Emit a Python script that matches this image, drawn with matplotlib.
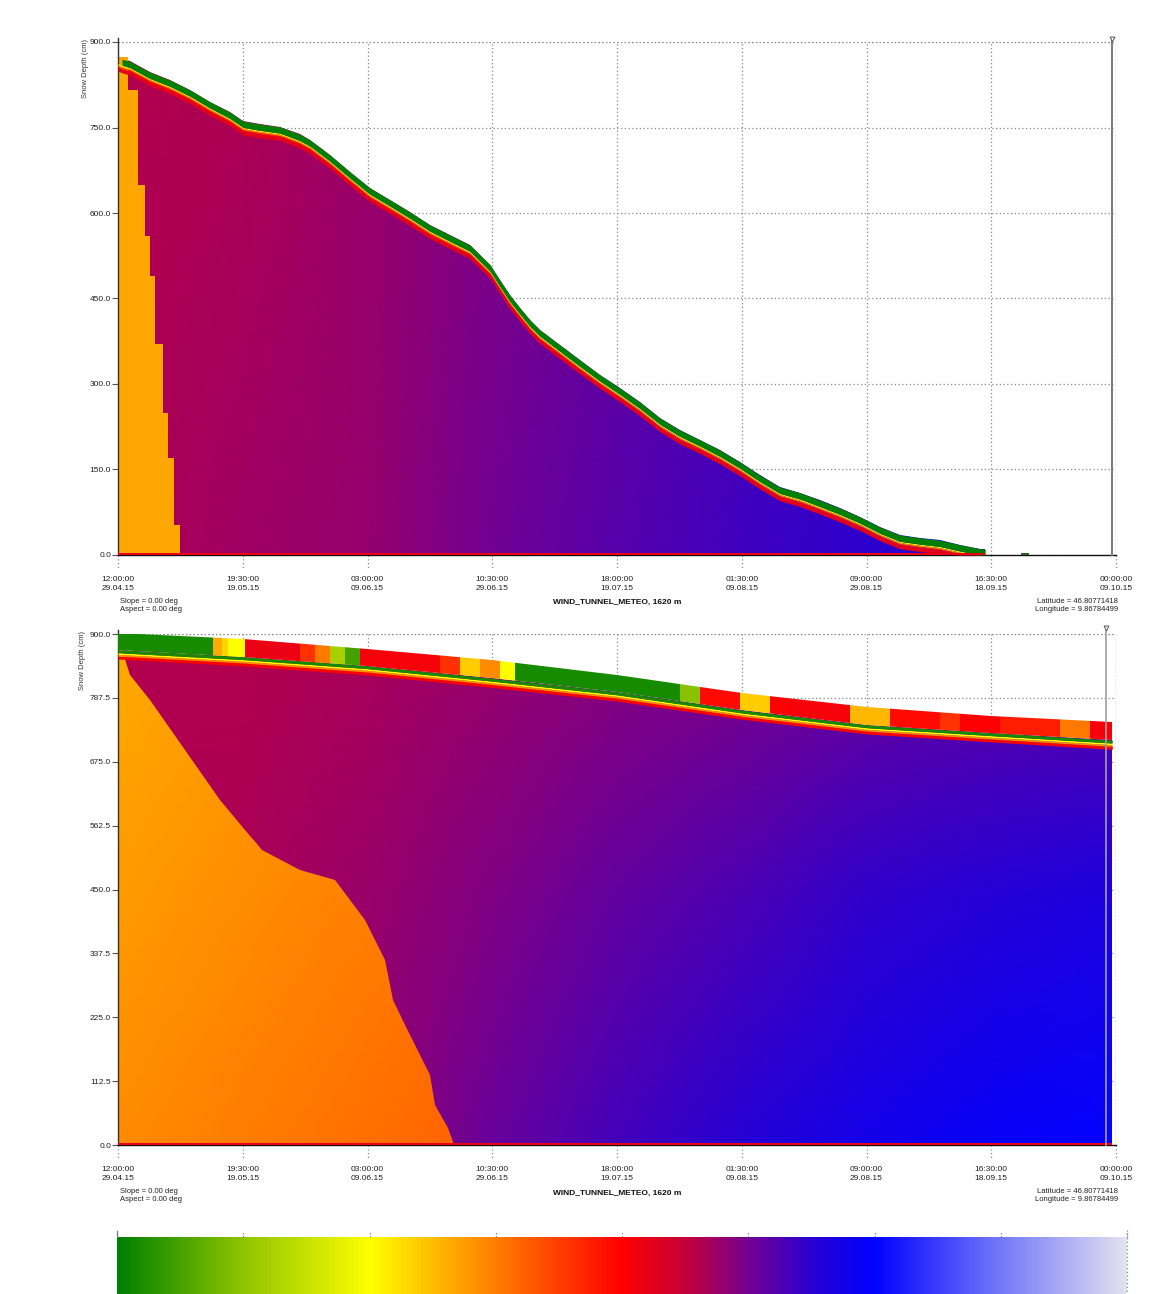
import numpy as np
import matplotlib
matplotlib.use('Agg')
import matplotlib.pyplot as plt
from matplotlib.colors import LinearSegmentedColormap
from matplotlib.patches import Polygon
from matplotlib import transforms

plt.rcParams['font.family'] = ['Liberation Sans', 'DejaVu Sans']

# ---------------- data ----------------
T_END = 162.5  # days from 29.04.15 12:00 to 09.10.15 00:00
tick_days = [0, 20.3125, 40.625, 60.9375, 81.25, 101.5625, 121.875, 142.1875, 162.5]
tick_labels = ["12:00:00\n29.04.15", "19:30:00\n19.05.15", "03:00:00\n09.06.15",
               "10:30:00\n29.06.15", "18:00:00\n19.07.15", "01:30:00\n09.08.15",
               "09:00:00\n29.08.15", "16:30:00\n18.09.15", "00:00:00\n09.10.15"]
top_yticks = [0, 150, 300, 450, 600, 750, 900]
bot_yticks = [0, 112.5, 225, 337.5, 450, 562.5, 675, 787.5, 900]

# colour scale (position, rgb)
cmap_pos = [0.0, 0.12, 0.25, 0.33, 0.5, 0.56, 0.63, 0.69, 0.75, 0.87, 1.0]
cmap_rgb = [(0, 128, 0), (140, 195, 0), (255, 255, 0), (255, 170, 0), (255, 0, 0),
            (200, 0, 55), (110, 0, 150), (40, 0, 210), (0, 0, 255), (110, 115, 250),
            (225, 225, 240)]

# top panel: snow height (cm) over time (days)
top_t = [0, 0.65, 1.95, 5.2, 8.5, 11.7, 15.0, 18.2, 20.4, 23.1, 26.4, 29.6, 31.3, 34.5,
         37.8, 41.0, 44.3, 47.5, 50.8, 54.1, 57.3, 59.0, 60.6, 62.2, 63.8, 65.5, 67.1,
         68.7, 72.0, 75.2, 78.5, 81.7, 85.0, 88.3, 91.5, 94.8, 98.0, 101.3, 104.5, 107.8,
         111.1, 114.3, 117.6, 120.8, 124.1, 127.3, 130.6, 133.8, 137.1, 140.4, 141.2]
top_h = [873, 870, 866, 847, 833, 816, 795, 777, 761, 756, 751, 738, 728, 702,
         672, 644, 623, 602, 579, 561, 544, 526, 509, 482, 456, 433, 412,
         395, 368, 342, 316, 293, 268, 240, 219, 202, 184, 163, 140, 119,
         109, 96, 82, 67, 49, 35, 30, 26, 18, 11, 10]
# top panel: orange (early) layer, depth bands (cm) and their time extent (days)
top_or_depth = [0, 53, 170, 249, 370, 490, 560, 650, 815, 873]
top_or_t = [10.1, 9.1, 8.2, 7.3, 6.0, 5.2, 4.4, 3.3, 1.6]
# interior colour values (grid of time x depth)
grid_t = [0, 20.3, 40.6, 60.9, 81.2, 101.6, 121.9, 142.2, 162.5]
top_grid_depth = [0, 900]
top_grid_vals = [[0.58, 0.59, 0.60, 0.625, 0.65, 0.67, 0.685, 0.69, 0.69],
                 [0.575, 0.58, 0.595, 0.615, 0.635, 0.655, 0.67, 0.68, 0.68]]
blip_t = [147.0, 148.3]
blip_h = 4

# bottom panel
bot_t = [0, 20.3, 40.6, 60.9, 81.2, 101.6, 121.9, 142.2, 161.9]
bot_strip_top = [901, 891, 874, 854, 828, 796, 771, 755, 745]
bot_strip_bot = [872, 860, 844, 822, 798, 766, 740, 726, 713]
strip_edges = [0, 15.5, 16.9, 17.9, 20.7, 29.6, 32.1, 34.5, 37.0, 39.4, 52.4, 55.7, 58.9,
               62.2, 64.6, 91.5, 94.8, 101.3, 106.2, 109.4, 119.2, 125.7, 133.8, 137.1,
               143.6, 153.4, 158.3, 162.5]
strip_vals = [0.02, 0.33, 0.29, 0.25, 0.52, 0.45, 0.38, 0.15, 0.06, 0.51, 0.45, 0.30, 0.36,
              0.25, 0.02, 0.12, 0.49, 0.30, 0.50, 0.51, 0.32, 0.49, 0.45, 0.50, 0.47, 0.38, 0.51]
bot_or_t = [0, 0.65, 1.95, 5.2, 10.9, 16.6, 20.7, 23.4, 29.6, 35.3, 40.2, 43.5, 44.8, 46.7,
            49.2, 50.8, 51.6, 53.7, 54.7]
bot_or_d = [872, 872, 828, 784, 696, 608, 555, 520, 484, 467, 396, 326, 255, 211,
            159, 123, 70, 30, 0]
bot_or_grid_t = [0, 55]
bot_or_grid_d = [0, 900]
bot_or_vals = [[0.36, 0.40], [0.33, 0.36]]
bot_grid_depth = [0, 450, 900]
bot_grid_vals = [[0.58, 0.585, 0.60, 0.635, 0.665, 0.695, 0.72, 0.74, 0.75],
                 [0.58, 0.585, 0.595, 0.615, 0.64, 0.66, 0.68, 0.695, 0.705],
                 [0.575, 0.578, 0.585, 0.595, 0.607, 0.617, 0.627, 0.635, 0.64]]
now_top = 161.85
now_bot = 160.9

# ---------------- figure ----------------
W, H = 1164, 1294
fig = plt.figure(figsize=(W / 100, H / 100), dpi=100)
cmap = LinearSegmentedColormap.from_list(
    'snp', [(p, tuple(c / 255 for c in rgb)) for p, rgb in zip(cmap_pos, cmap_rgb)])

GRID = dict(color='#8a8a8a', linestyle=(0, (1, 2)), linewidth=0.9)
FS = 6


def col(v):
    return cmap(v)


def style_axes(ax, yticks, ylabel_x):
    ax.set_xlim(0, T_END)
    ax.set_ylim(0, 900)
    ax.set_xticks(tick_days)
    ax.set_xticklabels(tick_labels, fontsize=FS, color='#222222', linespacing=1.5)
    ax.set_yticks(yticks)
    ax.set_yticklabels(["%.1f" % v for v in yticks], fontsize=FS, color='#222222')
    ax.tick_params(axis='x', length=0, pad=15)
    ax.tick_params(axis='y', length=4, width=0.8, color='#555555', pad=1)
    for s in ['top', 'right']:
        ax.spines[s].set_visible(False)
    ax.spines['left'].set_color('#333333')
    ax.spines['bottom'].set_color('#111111')
    ax.spines['left'].set_linewidth(1.0)
    ax.spines['bottom'].set_linewidth(1.0)
    ax.spines['left'].set_bounds(0, 907)
    ax.grid(True, zorder=0, **GRID)
    ax.set_axisbelow(True)
    # dotted tick extensions below axis
    trans = transforms.blended_transform_factory(ax.transData, ax.transAxes)
    for d in tick_days:
        ax.plot([d, d], [0, -0.03], transform=trans, clip_on=False, zorder=0, **GRID)
    ax.axhline(900, zorder=0.5, **GRID)
    ax.axvline(T_END, zorder=0.5, **GRID)
    ax.text(ylabel_x, 1.005, "Snow Depth (cm)", rotation=90, transform=ax.transAxes,
            ha='center', va='top', fontsize=5.5, color='#333333')


def footer(ax, y_off):
    ax.text(0.002, y_off, "Slope = 0.00 deg\nAspect = 0.00 deg", transform=ax.transAxes,
            ha='left', va='top', fontsize=5.5, linespacing=1.2, color='#222222')
    ax.text(0.5, y_off - 0.003, "WIND_TUNNEL_METEO, 1620 m", transform=ax.transAxes,
            ha='center', va='top', fontsize=6, fontweight='bold', color='#111111')
    ax.text(1.002, y_off, "Latitude = 46.80771418\nLongitude = 9.86784499",
            transform=ax.transAxes, ha='right', va='top', fontsize=5.5, linespacing=1.2,
            color='#222222', multialignment='right')


# ===== top panel =====
ax1 = fig.add_axes([118 / W, 1 - 555 / H, 998 / W, 513 / H])
tt = np.array(top_t)
hh = np.array(top_h)
mesh = ax1.pcolormesh(np.array(grid_t), np.array(top_grid_depth), np.array(top_grid_vals),
                      cmap=cmap, vmin=0, vmax=1, shading='gouraud', zorder=1)
poly1 = Polygon(np.column_stack([np.r_[tt, tt[-1], 0], np.r_[hh, 0, 0]]), closed=True,
                facecolor='none', edgecolor='none', transform=ax1.transData)
ax1.add_patch(poly1)
mesh.set_clip_path(poly1)
# orange early layer
ax1.fill_betweenx(top_or_depth, 0, top_or_t + [top_or_t[-1]], step='post',
                  color=col(0.335), lw=0, zorder=2)
# rim layers
ax1.fill_between(tt, np.clip(hh - 24, 0, None), np.clip(hh - 17, 0, None), color=col(0.53), lw=0, zorder=3)
ax1.fill_between(tt, np.clip(hh - 17, 0, None), np.clip(hh - 15, 0, None), color=col(0.47), lw=0, zorder=3)
ax1.fill_between(tt, np.clip(hh - 15, 0, None), np.clip(hh - 13, 0, None), color=col(0.36), lw=0, zorder=3)
ax1.fill_between(tt, np.clip(hh - 13, 0, None), np.clip(hh - 11, 0, None), color=col(0.26), lw=0, zorder=3)
ax1.fill_between(tt[1:], np.clip(hh[1:] - 11, 0, None), hh[1:], color=col(0.0), lw=0, zorder=3)
ax1.fill_between(tt, 0, np.minimum(4, hh), color=col(0.52), lw=0, zorder=3)
ax1.fill_between(blip_t, 0, blip_h, color='#2e5e2e', lw=0, zorder=3)
ax1.plot([now_top, now_top], [0, 905], color='#7a7a7a', lw=1.4, zorder=5, clip_on=False)
ax1.plot([now_top], [905], marker='v', ms=3.5, mfc='white', mec='#555555', mew=0.7,
         clip_on=False, zorder=6)
style_axes(ax1, top_yticks, -0.033)
footer(ax1, -0.083)

# ===== bottom panel =====
ax2 = fig.add_axes([118 / W, 1 - 1145 / H, 998 / W, 511 / H])
bt = np.array(bot_t)
sb = np.array(bot_strip_bot)
st = np.array(bot_strip_top)
mesh2 = ax2.pcolormesh(np.array(grid_t), np.array(bot_grid_depth), np.array(bot_grid_vals),
                       cmap=cmap, vmin=0, vmax=1, shading='gouraud', zorder=1)
poly2 = Polygon(np.column_stack([np.r_[bt, bt[-1], 0], np.r_[sb, 0, 0]]), closed=True,
                facecolor='none', edgecolor='none', transform=ax2.transData)
ax2.add_patch(poly2)
mesh2.set_clip_path(poly2)
# orange early layer
mesh_or = ax2.pcolormesh(np.array(bot_or_grid_t), np.array(bot_or_grid_d), np.array(bot_or_vals),
                         cmap=cmap, vmin=0, vmax=1, shading='gouraud', zorder=2)
poly_or = Polygon(np.column_stack([np.r_[0, bot_or_t], np.r_[0, bot_or_d]]), closed=True,
                  facecolor='none', edgecolor='none', transform=ax2.transData)
ax2.add_patch(poly_or)
mesh_or.set_clip_path(poly_or)
# rim layers under the strip
ax2.fill_between(bt, sb - 16, sb - 11, color=col(0.5), lw=0, zorder=3)
ax2.fill_between(bt, sb - 11, sb - 8, color=col(0.36), lw=0, zorder=3)
ax2.fill_between(bt, sb - 8, sb - 5, color=col(0.25), lw=0, zorder=3)
ax2.fill_between(bt, sb - 5, sb, color=col(0.02), lw=0, zorder=3)
ax2.fill_between(bt, 0, 4, color=col(0.52), lw=0, zorder=3)
# surface strip
smesh = ax2.pcolormesh(np.array(strip_edges), np.array([650, 910]), np.array([strip_vals]),
                       cmap=cmap, vmin=0, vmax=1, shading='flat', zorder=3)
poly_s = Polygon(np.column_stack([np.r_[bt, bt[::-1]], np.r_[sb, st[::-1]]]), closed=True,
                 facecolor='none', edgecolor='none', transform=ax2.transData)
ax2.add_patch(poly_s)
smesh.set_clip_path(poly_s)
ax2.plot([now_bot, now_bot], [0, 910], color='#a0a0a0', lw=1.2, zorder=5, clip_on=False)
ax2.plot([now_bot], [910], marker='v', ms=3.5, mfc='white', mec='#555555', mew=0.7,
         clip_on=False, zorder=6)
style_axes(ax2, bot_yticks, -0.036)
footer(ax2, -0.085)

# ===== colour bar =====
axc = fig.add_axes([117 / W, -0.01, 1010 / W, (1294 - 1237) / H + 0.01])
grad = np.linspace(0, 1, 512)[None, :]
axc.imshow(grad, cmap=cmap, aspect='auto', extent=(0, 1, 0, 1), vmin=0, vmax=1)
axc.set_xlim(0, 1)
axc.set_ylim(0, 1)
for s in axc.spines.values():
    s.set_visible(False)
axc.set_yticks([])
axc.set_xticks([])
for i, p in enumerate([0, 0.125, 0.25, 0.375, 0.5, 0.625, 0.75, 0.875, 1.0]):
    axc.plot([p, p], [1.0, 1.08], color='#777777', lw=0.9,
             linestyle='-' if i == 0 else (0, (1, 1.5)), clip_on=False)
axc.plot([1.0, 1.0], [0, 1.1], clip_on=False, **GRID)

fig.savefig('out.png', dpi=100)
